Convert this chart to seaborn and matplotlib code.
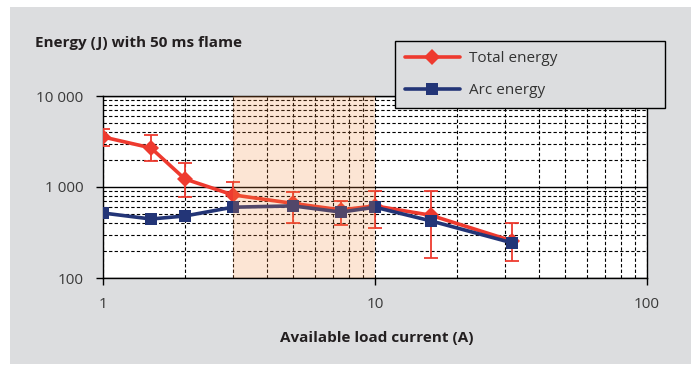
import numpy as np
import pandas as pd
import matplotlib
matplotlib.use("Agg")
import matplotlib.pyplot as plt
import seaborn as sns
from matplotlib.patches import Rectangle
from matplotlib.ticker import FixedLocator, FuncFormatter, LogLocator, NullFormatter

# values
current = [1, 1.5, 2, 3, 5, 7.5, 10, 16, 32]
total_energy = [3550, 2690, 1225, 820, 660, 560, 620, 490, 255]
total_hi = [4350, 3730, 1840, 1135, 880, 700, 900, 900, 400]
total_lo = [2820, 1930, 775, 590, 400, 385, 355, 166, 155]
arc_energy = [518, 445, 480, 600, 620, 530, 600, 425, 243]

series_names = ['Total energy', 'Arc energy']
band_range = (3, 10)

RED = '#ee3a2f'
BLUE = '#233577'
PANEL = '#dcdddf'

sns.set_style('white')
plt.rcParams['font.family'] = ['Open Sans', 'DejaVu Sans']

df = pd.DataFrame({
    'current': current * 2,
    'energy': total_energy + arc_energy,
    'series': [series_names[0]] * len(current) + [series_names[1]] * len(current),
})

fig = plt.figure(figsize=(6.96, 3.65), dpi=100)
fig.patches.append(Rectangle((10 / 696, 1 / 365), 681 / 696, 357 / 365,
                             transform=fig.transFigure, facecolor=PANEL,
                             edgecolor='none', zorder=-10))

ax = fig.add_axes([103 / 696, 87 / 365, 544 / 696, 182 / 365])
ax.set_facecolor('white')

ax.errorbar(current, total_energy,
            yerr=[np.array(total_energy) - np.array(total_lo),
                  np.array(total_hi) - np.array(total_energy)],
            fmt='none', ecolor=RED, elinewidth=1.3, capsize=5, capthick=1.3, zorder=3)

sns.lineplot(data=df, x='current', y='energy', hue='series', style='series',
             hue_order=series_names, style_order=series_names,
             palette={series_names[0]: RED, series_names[1]: BLUE},
             markers={series_names[0]: 'D', series_names[1]: 's'},
             dashes=False, linewidth=2.6, markersize=8.5, markeredgewidth=0,
             ax=ax, legend=False, zorder=4)
# arc energy sits on top of total energy
for ln in ax.get_lines():
    if ln.get_color() == BLUE:
        ln.set_zorder(4.5)

ax.axvspan(*band_range, color='#f58a3c', alpha=0.22, lw=0, zorder=6)

ax.set_xscale('log')
ax.set_yscale('log')
ax.set_xlim(1, 100)
ax.set_ylim(100, 10000)

ax.xaxis.set_major_locator(FixedLocator([1, 10, 100]))
ax.yaxis.set_major_locator(FixedLocator([100, 1000, 10000]))
ax.xaxis.set_minor_locator(LogLocator(base=10, subs=np.arange(2, 10)))
ax.yaxis.set_minor_locator(LogLocator(base=10, subs=np.arange(2, 10)))
ax.xaxis.set_minor_formatter(NullFormatter())
ax.yaxis.set_minor_formatter(NullFormatter())
ax.xaxis.set_major_formatter(FuncFormatter(lambda v, p: f'{v:g}'))
ax.yaxis.set_major_formatter(FuncFormatter(lambda v, p: f'{int(v):,}'.replace(',', ' ')))

dash = (0, (3, 2))
ax.grid(True, which='minor', axis='both', linestyle=dash, color='black', linewidth=0.8)
ax.xaxis.grid(True, which='major', linestyle=dash, color='black', linewidth=0.8)
ax.yaxis.grid(True, which='major', linestyle='-', color='black', linewidth=1.0)
ax.set_axisbelow(True)

for s in ax.spines.values():
    s.set_color('black')
    s.set_linewidth(1.0)

ax.tick_params(which='minor', length=0)
ax.tick_params(axis='y', which='major', direction='out', length=5, width=1,
               color='black', left=True, pad=9, labelsize=11, labelcolor='#3a3a3a')
ax.tick_params(axis='x', which='major', direction='out', length=5, width=1,
               color='black', bottom=True, pad=9, labelsize=11, labelcolor='#3a3a3a')

ax.set_xlabel('')
ax.set_ylabel('')

fig.text(35 / 696, 1 - 43 / 365, 'Energy (J) with 50 ms flame', fontsize=11,
         fontweight='bold', color='#231f20', va='center', ha='left')
fig.text(377 / 696, 1 - 338 / 365, 'Available load current (A)', fontsize=11,
         fontweight='bold', color='#231f20', va='center', ha='center')

handles = [plt.Line2D([], [], color=RED, marker='D', lw=2.6, ms=8.5, mew=0),
           plt.Line2D([], [], color=BLUE, marker='s', lw=2.6, ms=8.5, mew=0)]
leg = fig.legend(handles, series_names, loc='upper left',
                 bbox_to_anchor=(395 / 696, 1 - 41 / 365, 270 / 696, 0),
                 bbox_transform=fig.transFigure, mode='expand', fancybox=False,
                 frameon=True, facecolor=PANEL, edgecolor='black', framealpha=1,
                 fontsize=11, handlelength=3.6, labelspacing=1.15,
                 borderpad=0.65, handletextpad=0.6, borderaxespad=0)
leg.get_frame().set_linewidth(1.0)
for t in leg.get_texts():
    t.set_color('#333333')
leg.set_zorder(10)

fig.savefig('out.png', dpi=100)
